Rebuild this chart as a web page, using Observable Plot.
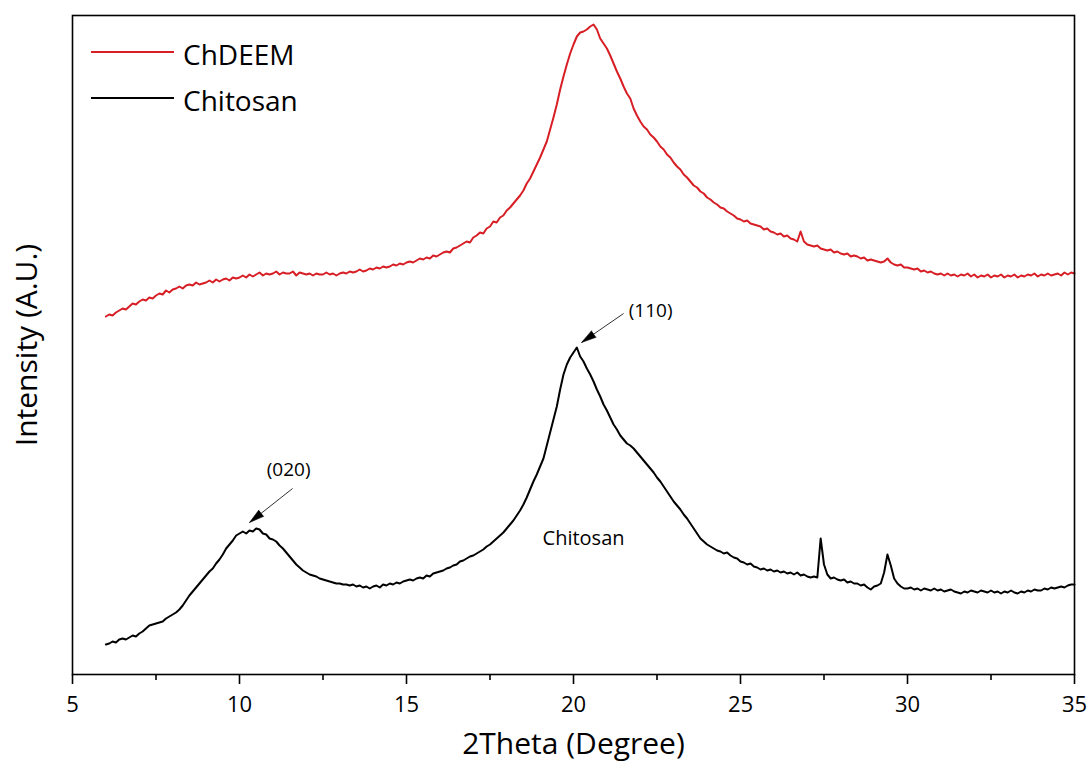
<!DOCTYPE html>
<html>
<head>
<meta charset="utf-8">
<script src="https://cdn.jsdelivr.net/npm/d3@7"></script>
<script src="https://cdn.jsdelivr.net/npm/@observablehq/plot@0.6"></script>
<style>
  body { margin: 0; background: #fff; }
  #chart { position: relative; width: 1091px; height: 779px; }
</style>
</head>
<body>
<div id="chart"></div>
<script>
// XRD scans, 2θ from 6° to 35° in 0.1° steps, intensity in arbitrary units
const thetaStart = 6.0;
const thetaStep = 0.1;

const chdeem = [
  358,360,359,362,364,366,365,368,371,370,
  373,375,374,377,376,379,381,380,384,382,
  385,386,388,386,389,390,389,392,390,391,
  392,394,392,395,393,395,396,394,397,396,
  397,399,397,400,398,400,402,399,401,400,
  401,403,400,402,401,401,403,399,402,401,
  400,401,399,401,400,400,402,400,401,399,
  401,402,401,403,402,403,405,403,404,406,
  405,407,406,408,407,408,410,409,411,410,
  412,413,412,414,416,415,417,416,419,418,
  420,422,423,422,426,427,429,431,433,432,
  437,439,442,441,446,448,453,452,457,459,
  464,467,471,475,479,484,491,496,503,510,
  517,525,533,545,557,570,585,598,610,621,
  630,638,642,643,645,648,650,645,636,631,
  626,619,611,603,596,588,581,576,566,559,
  553,548,545,540,537,533,528,525,520,517,
  512,508,505,500,497,493,489,487,483,481,
  477,475,472,470,467,466,463,461,459,456,
  455,453,454,451,450,449,448,445,446,443,
  442,440,441,438,439,436,435,433,443,433,
  430,429,428,429,426,425,424,425,422,423,
  421,420,421,418,419,418,416,417,414,415,
  414,413,412,413,416,412,410,409,410,407,
  407,406,405,406,403,404,402,403,401,400,
  401,399,401,399,400,398,400,399,401,398,
  400,397,399,398,400,397,399,398,400,397,
  399,398,400,397,399,398,400,399,401,398,
  400,399,401,399,400,401,399,402,400,402,
  401
];

const chitosan = [
  30,31,33,32,35,36,35,37,39,38,
  41,43,46,49,50,51,52,53,56,58,
  60,62,65,69,74,79,83,87,91,95,
  99,103,106,111,115,120,126,130,134,139,
  141,143,141,144,143,146,145,141,140,136,
  135,133,129,126,122,118,114,110,107,104,
  102,100,99,98,96,95,94,93,92,91,
  91,90,90,89,90,88,89,87,88,86,
  88,89,87,90,89,91,90,92,91,93,
  94,95,94,96,97,96,99,98,101,102,
  103,104,106,107,109,110,113,114,116,118,
  119,121,123,125,128,130,133,136,139,142,
  146,150,154,159,164,170,177,185,193,200,
  208,216,229,242,255,268,285,300,310,317,
  322,327,318,313,306,300,293,285,278,270,
  264,257,250,245,239,235,231,229,226,222,
  218,214,210,206,202,197,193,188,183,178,
  173,169,165,160,156,151,146,141,136,133,
  130,128,126,124,123,121,122,119,117,116,
  113,112,110,111,108,107,105,106,104,105,
  103,104,102,103,101,102,100,102,99,100,
  98,97,98,97,136,110,100,96,97,95,
  94,95,92,93,91,91,89,90,87,85,
  88,89,91,102,120,109,96,91,88,86,
  86,87,85,86,84,86,85,84,86,84,
  85,83,84,85,83,82,81,83,82,84,
  83,82,84,83,82,84,82,83,81,83,
  82,84,82,81,83,82,84,83,85,84,
  84,86,85,87,86,87,88,87,89,90,
  90
];

const seriesNames = ["ChDEEM", "Chitosan"];
const seriesColors = ["#d81e25", "#000000"];

const majorTicks = [5, 10, 15, 20, 25, 30, 35];
const minorTicks = [7.5, 12.5, 17.5, 22.5, 27.5, 32.5];

// crystal plane labels and their pointer arrows
const planeLabels = [
  { text: "(020)", x: 11.47, y: 205 },
  { text: "(110)", x: 22.31, y: 364 }
];
const planeArrows = [
  { x1: 11.59, y1: 186, x2: 10.30, y2: 152 },
  { x1: 21.50, y1: 361, x2: 20.24, y2: 332 }
];
const sampleLabels = [{ text: "Chitosan", x: 20.3, y: 136 }];

const xTitle = "2Theta (Degree)";
const yTitle = "Intensity (A.U.)";

const xDomain = [5, 35];
const yDomain = [0, 659];

const W = 1091, H = 779;
const ML = 72, MR = 17, MT = 15, MB = 105;
const FONT = "'Open Sans', 'Noto Sans', sans-serif";

const toRows = (values, name) =>
  values.map((v, i) => ({ theta: +(thetaStart + i * thetaStep).toFixed(2), intensity: v, series: name }));

const rows = [...toRows(chdeem, seriesNames[0]), ...toRows(chitosan, seriesNames[1])];

// pixel per unit, used to orient arrow heads along their shafts
const kx = (W - ML - MR) / (xDomain[1] - xDomain[0]);
const ky = (H - MT - MB) / (yDomain[1] - yDomain[0]);
const headAngle = d => Math.atan2((d.x2 - d.x1) * kx, (d.y2 - d.y1) * ky) * 180 / Math.PI;

const svg = Plot.plot({
  width: W,
  height: H,
  marginLeft: ML,
  marginRight: MR,
  marginTop: MT,
  marginBottom: MB,
  style: { fontFamily: FONT, background: "#fff", color: "#000" },
  x: { domain: xDomain },
  y: { domain: yDomain, axis: null },
  color: { domain: seriesNames, range: seriesColors },
  marks: [
    Plot.line(rows, { x: "theta", y: "intensity", z: "series", stroke: "series", strokeWidth: 2, strokeLinejoin: "round" }),
    Plot.axisX({ ticks: majorTicks, tickSize: 10, tickPadding: 12, fontSize: 22, strokeWidth: 1.6, label: null, tickFormat: d => String(d) }),
    Plot.axisX({ ticks: minorTicks, tickSize: 6, strokeWidth: 1.6, label: null, tickFormat: () => "" }),
    Plot.frame({ stroke: "#000", strokeWidth: 1.6 }),
    Plot.link(planeArrows, { x1: "x1", y1: "y1", x2: "x2", y2: "y2", stroke: "#333", strokeWidth: 1 }),
    Plot.vector(planeArrows, {
      x: "x2", y: "y2", length: 15, r: 4, rotate: headAngle, anchor: "end",
      shape: "spike", fill: "#000", fillOpacity: 1, stroke: "#000", strokeWidth: 0.5
    }),
    Plot.text(planeLabels, { x: "x", y: "y", text: "text", fontSize: 19, fill: "#000" }),
    Plot.text(sampleLabels, { x: "x", y: "y", text: "text", fontSize: 20, fill: "#000" }),
    Plot.text([xTitle], {
      frameAnchor: "bottom", textAnchor: "middle", lineAnchor: "middle",
      dy: 70, text: d => d, fontSize: 30, fill: "#000"
    }),
    Plot.text([yTitle], {
      frameAnchor: "left", textAnchor: "middle", lineAnchor: "middle",
      dx: -45, rotate: -90, text: d => d, fontSize: 30, fill: "#000"
    })
  ]
});

// legend in the upper-left corner of the frame
const legend = d3.select(svg).append("g")
  .attr("font-family", FONT)
  .attr("font-size", 28)
  .attr("text-anchor", "start")
  .attr("fill", "#000");
seriesNames.forEach((name, i) => {
  const y = 52 + i * 46;
  legend.append("line")
    .attr("x1", 91).attr("x2", 174).attr("y1", y).attr("y2", y)
    .attr("stroke", seriesColors[i]).attr("stroke-width", 2);
  legend.append("text")
    .attr("x", 183).attr("y", y).attr("dy", "0.45em")
    .text(name);
});

document.getElementById("chart").appendChild(svg);
</script>
</body>
</html>
